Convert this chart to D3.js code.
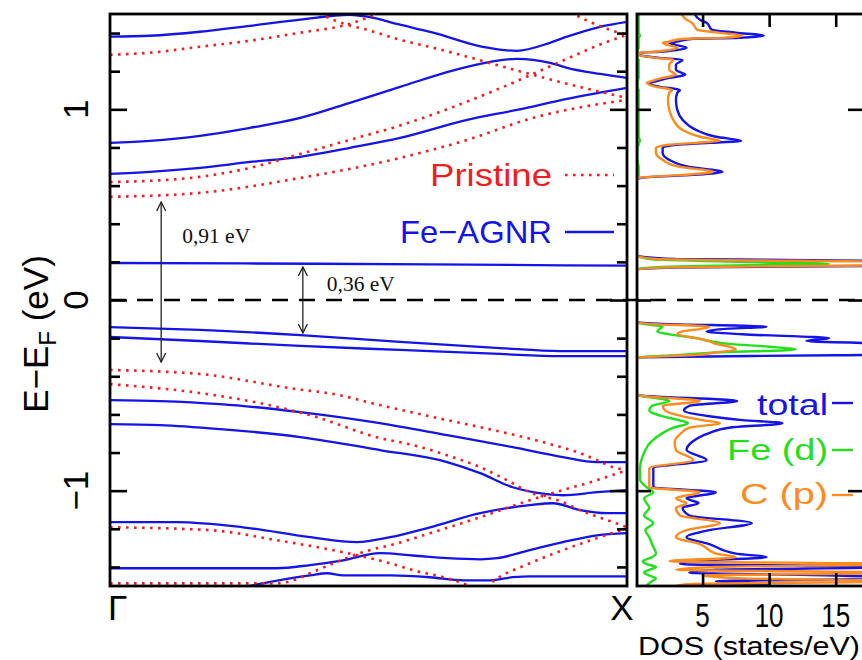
<!DOCTYPE html>
<html><head><meta charset="utf-8">
<script src="https://cdn.jsdelivr.net/npm/d3@7/dist/d3.min.js"></script>
<style>body{margin:0;background:#fff}svg{display:block}</style>
</head><body>
<svg id="c" width="862" height="660"></svg>
<script>
// ---------- data ----------
const kPointLabels = ["Γ", "X"];
const energyTicks = [-1, 0, 1];
const energyTickLabels = ["−1", "0", "1"];
const energyMinorTicks = [-1.4, -1.2, -0.8, -0.6, -0.4, -0.2, 0.2, 0.4, 0.6, 0.8, 1.2, 1.4];
const dosTicks = [5, 10, 15];

// Fe-AGNR bands: [k (Γ=0, X=1), E-EF (eV)]
const feBands = [
  [[0,1.381],[0.077,1.386],[0.174,1.407],[0.271,1.438],[0.368,1.47],[0.464,1.496],[0.497,1.486],[0.561,1.444],[0.625,1.402],[0.721,1.328],[0.787,1.307],[0.851,1.349],[0.884,1.381],[0.948,1.433],[1,1.459]],
  [[0,0.824],[0.077,0.835],[0.174,0.861],[0.271,0.903],[0.368,0.955],[0.464,1.034],[0.561,1.118],[0.691,1.223],[0.787,1.265],[0.851,1.244],[0.884,1.218],[0.948,1.186],[1,1.165]],
  [[0,0.661],[0.077,0.672],[0.174,0.693],[0.271,0.724],[0.368,0.751],[0.464,0.798],[0.561,0.85],[0.691,0.945],[0.787,0.997],[0.884,1.055],[1,1.113]],
  [[0,0.194],[0.4,0.19],[0.77,0.184],[1,0.18]],
  [[0,-0.142],[0.174,-0.157],[0.368,-0.184],[0.561,-0.22],[0.754,-0.252],[0.87,-0.268],[1,-0.268]],
  [[0,-0.194],[0.174,-0.215],[0.368,-0.241],[0.561,-0.262],[0.754,-0.283],[0.87,-0.294],[1,-0.294]],
  [[0,-0.525],[0.097,-0.53],[0.213,-0.546],[0.368,-0.588],[0.522,-0.646],[0.652,-0.709],[0.779,-0.772],[0.876,-0.824],[0.942,-0.85],[1,-0.85]],
  [[0,-0.651],[0.097,-0.656],[0.213,-0.677],[0.368,-0.719],[0.522,-0.787],[0.652,-0.85],[0.716,-0.908],[0.779,-0.982],[0.845,-1.018],[0.876,-1.024],[0.942,-1.008],[1,-0.997]],
  [[0,-1.165],[0.13,-1.165],[0.257,-1.192],[0.387,-1.244],[0.478,-1.27],[0.542,-1.244],[0.619,-1.192],[0.716,-1.118],[0.812,-1.076],[0.857,-1.066],[0.909,-1.102],[0.961,-1.118],[1,-1.118]],
  [[0,-1.407],[0.323,-1.407],[0.387,-1.39],[0.451,-1.365],[0.522,-1.328],[0.586,-1.34],[0.652,-1.354],[0.716,-1.36],[0.749,-1.354],[0.812,-1.312],[0.876,-1.27],[0.942,-1.234],[1,-1.223]],
  [[0.235,-1.52],[0.257,-1.507],[0.387,-1.444],[0.42,-1.433],[0.451,-1.444],[0.542,-1.444],[0.619,-1.454],[0.683,-1.47],[0.735,-1.47],[0.779,-1.454],[0.812,-1.449],[1,-1.449]]
];

// Pristine AGNR bands
const pristineBands = [
  [[0,1.286],[0.077,1.297],[0.174,1.328],[0.271,1.36],[0.368,1.402],[0.458,1.444],[0.516,1.501],[0.56,1.56]],
  [[0.39,1.52],[0.406,1.5],[0.458,1.444],[0.497,1.417],[0.561,1.365],[0.625,1.323],[0.691,1.276],[0.754,1.228],[0.818,1.181],[0.884,1.134],[0.948,1.092],[1,1.06]],
  [[0,0.619],[0.077,0.625],[0.174,0.646],[0.271,0.693],[0.368,0.766],[0.464,0.84],[0.561,0.915],[0.754,1.11],[0.884,1.265],[0.948,1.34],[1,1.391]],
  [[0,0.541],[0.174,0.562],[0.368,0.64],[0.561,0.745],[0.691,0.84],[0.818,0.955],[1,1.05]],
  [[0.89,1.51],[0.928,1.459],[0.967,1.417],[1,1.391]],
  [[0,-0.367],[0.174,-0.388],[0.368,-0.47],[0.426,-0.49],[0.522,-0.551],[0.625,-0.614],[0.716,-0.667],[0.845,-0.751],[0.909,-0.803],[0.942,-0.84],[0.973,-0.877],[1,-0.892]],
  [[0,-0.441],[0.174,-0.488],[0.29,-0.541],[0.387,-0.604],[0.522,-0.724],[0.586,-0.761],[0.652,-0.814],[0.716,-0.877],[0.768,-0.945],[0.812,-1.008],[0.876,-1.06],[0.909,-1.102],[0.973,-1.165],[1,-1.192]],
  [[0,-1.192],[0.194,-1.207],[0.323,-1.26],[0.451,-1.323],[0.542,-1.381],[0.586,-1.417],[0.652,-1.459],[0.683,-1.486],[0.716,-1.52],[0.749,-1.459],[0.812,-1.381],[0.876,-1.312],[0.942,-1.249],[1,-1.197]],
  [[0,-1.486],[0.323,-1.486],[0.36,-1.465],[0.387,-1.433],[0.516,-1.302],[0.542,-1.286],[0.619,-1.223],[0.716,-1.139],[0.812,-1.05],[0.876,-0.997],[0.942,-0.945],[1,-0.892]]
];

// Gap annotations: k position, top energy, bottom energy
const gapArrows = [
  {k: 0.099, top: 0.514, bottom: -0.325, label: "0,91 eV"},
  {k: 0.373, top: 0.173, bottom: -0.173, label: "0,36 eV"}
];

// DOS (states/eV) vs energy
const dosEnergy = [1.5,1.47,1.454,1.417,1.402,1.386,1.375,1.37,1.354,1.349,1.339,1.323,1.302,1.297,1.286,1.27,1.26,1.234,1.207,1.181,1.165,1.144,1.139,1.118,1.102,1.087,1.05,0.997,0.945,0.892,0.856,0.835,0.824,0.814,0.798,0.772,0.735,0.698,0.672,0.656,0.64,0.63,
  0.235,0.215,0.2,0.19,0.18,0.17,0.16,
  -0.115,-0.125,-0.14,-0.15,-0.165,-0.18,-0.2,-0.215,-0.23,-0.245,-0.26,-0.275,-0.29,-0.3,-0.31,
  -0.49,-0.5,-0.53,-0.555,-0.58,-0.61,-0.63,-0.646,-0.67,-0.698,-0.745,-0.787,-0.84,-0.882,-0.94,-0.982,-1.008,-1.04,-1.066,-1.09,-1.13,-1.17,-1.207,-1.244,-1.28,-1.33,-1.349,-1.37,-1.385,-1.4,-1.415,-1.43,-1.445,-1.46,-1.475,-1.49,-1.5];
const dosTotal = [4.4,4.8,5.3,5.7,7.5,9.6,7.8,4.3,3.0,2.5,2.9,3.8,1.8,0.3,0.2,1.8,3.5,3.0,3.0,3.7,2.5,1.3,1.0,1.8,3.3,3.1,3.0,3.1,3.5,4.5,6.0,7.9,5.5,3.0,2.0,2.0,2.5,4.0,6.5,4.3,0.3,0,
  0,3,30,40,20,3,0,
  0,2,9.8,7,5.3,8,14.5,12.8,20,30,30,30,15,0.5,0,
  0,0.3,7.6,4.0,3.6,5.5,8.0,11.0,7.0,5.5,4.2,3.8,5.3,1.3,1.3,1.3,6.0,3.8,4.7,3.5,4.0,8.7,5.5,3.8,5.5,7.5,9.8,4.0,3.3,20,6,4,15,20,6,10,5];
const dosFeD = [0.2,0.2,0.2,0.2,0.2,0.3,0.2,0.2,0.2,0.2,0.2,0.2,0.1,0.1,0.1,0.1,0.2,0.2,0.2,0.2,0.2,0.1,0.1,0.1,0.2,0.2,0.2,0.2,0.2,0.2,0.2,0.3,0.2,0.2,0.1,0.1,0.1,0.2,0.2,0.2,0.1,0,
  0,1,8,14.5,6,1,0,
  0,0.5,2.0,1.8,1.6,2.5,4.5,5.5,7,10,12,6,3,0.3,0,
  0,0.2,2.5,1.2,1.0,2.0,3.2,3.9,2.8,2.0,1.1,0.7,0.4,0.3,0.3,0.8,1.3,0.6,0.8,1.0,0.6,1.3,0.7,1.0,1.2,1.5,1.2,0.5,0.8,1.5,1.0,0.6,1.0,1.5,1.2,0.9,0.8];
const dosCp = [3.4,3.8,4.2,4.6,6.2,8.0,6.5,3.6,2.4,2.0,2.3,3.1,1.4,0.3,0.2,1.5,2.8,2.5,2.5,3.0,2.0,1.0,0.8,1.5,2.7,2.5,2.4,2.5,2.8,3.5,4.8,6.3,4.5,2.4,1.5,1.5,2.0,3.3,5.8,3.5,0.2,0,
  0,1.5,20,30,15,2,0,
  0,1,5.5,5.0,3.5,3.1,4.5,5.5,6.0,7.0,7.5,6.0,4.0,0.5,0,
  0,0.2,4.8,2.0,2.2,3.5,5.0,6.3,4.0,3.4,2.9,3.0,4.3,1.0,1.0,1.0,4.8,3.0,3.8,3.0,3.3,6.3,3.8,3.0,4.8,6.0,7.5,2.5,20,6,3,20,5,8,20,4,3];

const dosSeries = [
  {name: "total", values: dosTotal, color: "#1414e6"},
  {name: "Fe (d)", values: dosFeD, color: "#22e01e"},
  {name: "C (p)", values: dosCp, color: "#ff8a1e"}
];
const bandLegend = [
  {name: "Pristine", color: "#f01e1e", dotted: true},
  {name: "Fe−AGNR", color: "#1414e6", dotted: false}
];

// ---------- drawing ----------
const svg = d3.select("#c");
const BL = 110, BR = 627, TOP = 14, BOT = 586, DL = 637, DR = 865;
const y = d3.scaleLinear().domain([-1.5, 1.5]).range([BOT, TOP]);
const xk = d3.scaleLinear().domain([0, 1]).range([BL, BR]);
const xd = d3.scaleLinear().domain([0, 17.2]).range([636, DR]);
const sans = "'Liberation Sans', Arial, Helvetica, sans-serif";

const defs = svg.append("defs");
defs.append("clipPath").attr("id", "bandClip").append("rect")
  .attr("x", BL).attr("y", TOP).attr("width", BR - BL).attr("height", BOT - TOP);
defs.append("clipPath").attr("id", "dosClip").append("rect")
  .attr("x", DL).attr("y", TOP).attr("width", DR - DL).attr("height", BOT - TOP);

const bandLine = d3.line().x(d => xk(d[0])).y(d => y(d[1])).curve(d3.curveMonotoneX);
const gB = svg.append("g").attr("clip-path", "url(#bandClip)");
gB.selectAll("path.fe").data(feBands).join("path").attr("class", "fe")
  .attr("d", bandLine).attr("fill", "none").attr("stroke", bandLegend[1].color).attr("stroke-width", 2.3);
gB.selectAll("path.pr").data(pristineBands).join("path").attr("class", "pr")
  .attr("d", bandLine).attr("fill", "none").attr("stroke", bandLegend[0].color)
  .attr("stroke-width", 2.6).attr("stroke-dasharray", "2.6 5.4");

// DOS
const dosLine = d3.line().x(d => xd(d[1])).y(d => y(d[0])).curve(d3.curveMonotoneY);
const gD = svg.append("g").attr("clip-path", "url(#dosClip)");
dosSeries.forEach(s => {
  gD.append("path").datum(dosEnergy.map((e, i) => [e, s.values[i]]))
    .attr("d", dosLine).attr("fill", "none").attr("stroke", s.color)
    .attr("stroke-width", 2.4).attr("stroke-linejoin", "round");
});

// Fermi level
svg.append("line").attr("x1", BL).attr("x2", 862).attr("y1", y(0)).attr("y2", y(0))
  .attr("stroke", "#000").attr("stroke-width", 2.6).attr("stroke-dasharray", "16 11");

// Axes ticks
const axG = svg.append("g");
[[d3.axisRight, BL], [d3.axisLeft, BR]].forEach(([fn, x]) => {
  axG.append("g").attr("transform", `translate(${x},0)`)
    .call(fn(y).tickValues(energyMinorTicks).tickSize(10).tickFormat(""));
  axG.append("g").attr("transform", `translate(${x},0)`)
    .call(fn(y).tickValues(energyTicks).tickSize(17).tickFormat(""));
});
[[d3.axisRight, DL, 14], [d3.axisLeft, DR, 17]].forEach(([fn, x, s]) => {
  axG.append("g").attr("transform", `translate(${x},0)`)
    .call(fn(y).tickValues(energyTicks).tickSize(s).tickFormat(""));
});
axG.append("g").attr("transform", `translate(0,${TOP})`)
  .call(d3.axisBottom(xd).tickValues(dosTicks).tickSize(13).tickFormat(""));
axG.append("g").attr("transform", `translate(0,${BOT})`)
  .call(d3.axisTop(xd).tickValues(dosTicks).tickSize(13).tickFormat(""));
axG.selectAll(".domain").remove();
axG.selectAll("line").attr("stroke", "#000").attr("stroke-width", 2.6);

// frames
svg.append("rect").attr("x", BL).attr("y", TOP).attr("width", BR - BL).attr("height", BOT - TOP)
  .attr("fill", "none").attr("stroke", "#000").attr("stroke-width", 2.8);
svg.append("rect").attr("x", DL).attr("y", TOP).attr("width", DR - DL).attr("height", BOT - TOP)
  .attr("fill", "none").attr("stroke", "#000").attr("stroke-width", 2.8);

// y tick labels (rotated)
energyTicks.forEach((t, i) => {
  svg.append("text").attr("transform", `translate(88,${y(t)}) rotate(-90)`)
    .attr("text-anchor", "middle").attr("font-family", sans).attr("font-size", 35)
    .text(energyTickLabels[i]);
});
// y axis title
const yt = svg.append("text").attr("transform", `translate(48,334) rotate(-90)`)
  .attr("text-anchor", "middle").attr("font-family", sans).attr("font-size", 35);
yt.append("tspan").text("E−E");
yt.append("tspan").attr("font-size", 24).attr("dy", 8).text("F");
yt.append("tspan").attr("dy", -8).text(" (eV)");

// k-point labels
svg.append("text").attr("x", xk(0) - 2).attr("y", 620).attr("font-family", sans).attr("font-size", 35).text(kPointLabels[0]);
svg.append("text").attr("x", xk(1) - 5).attr("y", 620).attr("text-anchor", "middle").attr("font-family", sans).attr("font-size", 35).text(kPointLabels[1]);

// DOS tick labels
dosTicks.forEach(t => {
  svg.append("text").attr("x", xd(t)).attr("y", 627).attr("text-anchor", "middle")
    .attr("font-family", sans).attr("font-size", 34)
    .attr("textLength", String(t).length * 14.5).attr("lengthAdjust", "spacingAndGlyphs").text(t);
});
svg.append("text").attr("x", 638).attr("y", 655).attr("font-family", sans).attr("font-size", 25)
  .attr("textLength", 222).attr("lengthAdjust", "spacingAndGlyphs").text("DOS (states/eV)");

// band legend
const blPos = [{x: 430, base: 186, len: 122, ly: 175}, {x: 400, base: 243, len: 152, ly: 232}];
bandLegend.forEach((l, i) => {
  const p = blPos[i];
  svg.append("text").attr("x", p.x).attr("y", p.base).attr("font-family", sans).attr("font-size", 32)
    .attr("fill", l.color).attr("textLength", p.len).attr("lengthAdjust", "spacingAndGlyphs").text(l.name);
  svg.append("line").attr("x1", 565).attr("x2", 614).attr("y1", p.ly).attr("y2", p.ly)
    .attr("stroke", l.color).attr("stroke-width", l.dotted ? 2.6 : 2.3)
    .attr("stroke-dasharray", l.dotted ? "2.6 5.4" : null);
});

// DOS legend
const dlPos = [{base: 415, len: 71, ly: 403}, {base: 460, len: 101, ly: 450}, {base: 504, len: 88, ly: 495}];
dosSeries.forEach((s, i) => {
  const p = dlPos[i];
  svg.append("text").attr("x", 828).attr("y", p.base).attr("text-anchor", "end")
    .attr("font-family", sans).attr("font-size", 30).attr("fill", s.color)
    .attr("textLength", p.len).attr("lengthAdjust", "spacingAndGlyphs").text(s.name);
  svg.append("line").attr("x1", 832).attr("x2", 853).attr("y1", p.ly).attr("y2", p.ly)
    .attr("stroke", s.color).attr("stroke-width", 2.4);
});

// gap arrows
const labelOffsets = [{dx: 21, base: 243}, {dx: 24, base: 291}];
gapArrows.forEach((a, i) => {
  const x = xk(a.k), y1 = y(a.top), y2 = y(a.bottom);
  const g = svg.append("g").attr("stroke", "#222").attr("stroke-width", 1.3).attr("fill", "none");
  g.append("line").attr("x1", x).attr("x2", x).attr("y1", y1).attr("y2", y2);
  g.append("path").attr("d", `M${x - 4.5},${y1 + 9}L${x},${y1}L${x + 4.5},${y1 + 9}`);
  g.append("path").attr("d", `M${x - 4.5},${y2 - 9}L${x},${y2}L${x + 4.5},${y2 - 9}`);
  svg.append("text").attr("x", x + labelOffsets[i].dx).attr("y", labelOffsets[i].base)
    .attr("font-family", "'Liberation Serif', 'Times New Roman', serif").attr("font-size", 20)
    .attr("textLength", 68).attr("lengthAdjust", "spacingAndGlyphs").attr("fill", "#111").text(a.label);
});
</script>
</body></html>
